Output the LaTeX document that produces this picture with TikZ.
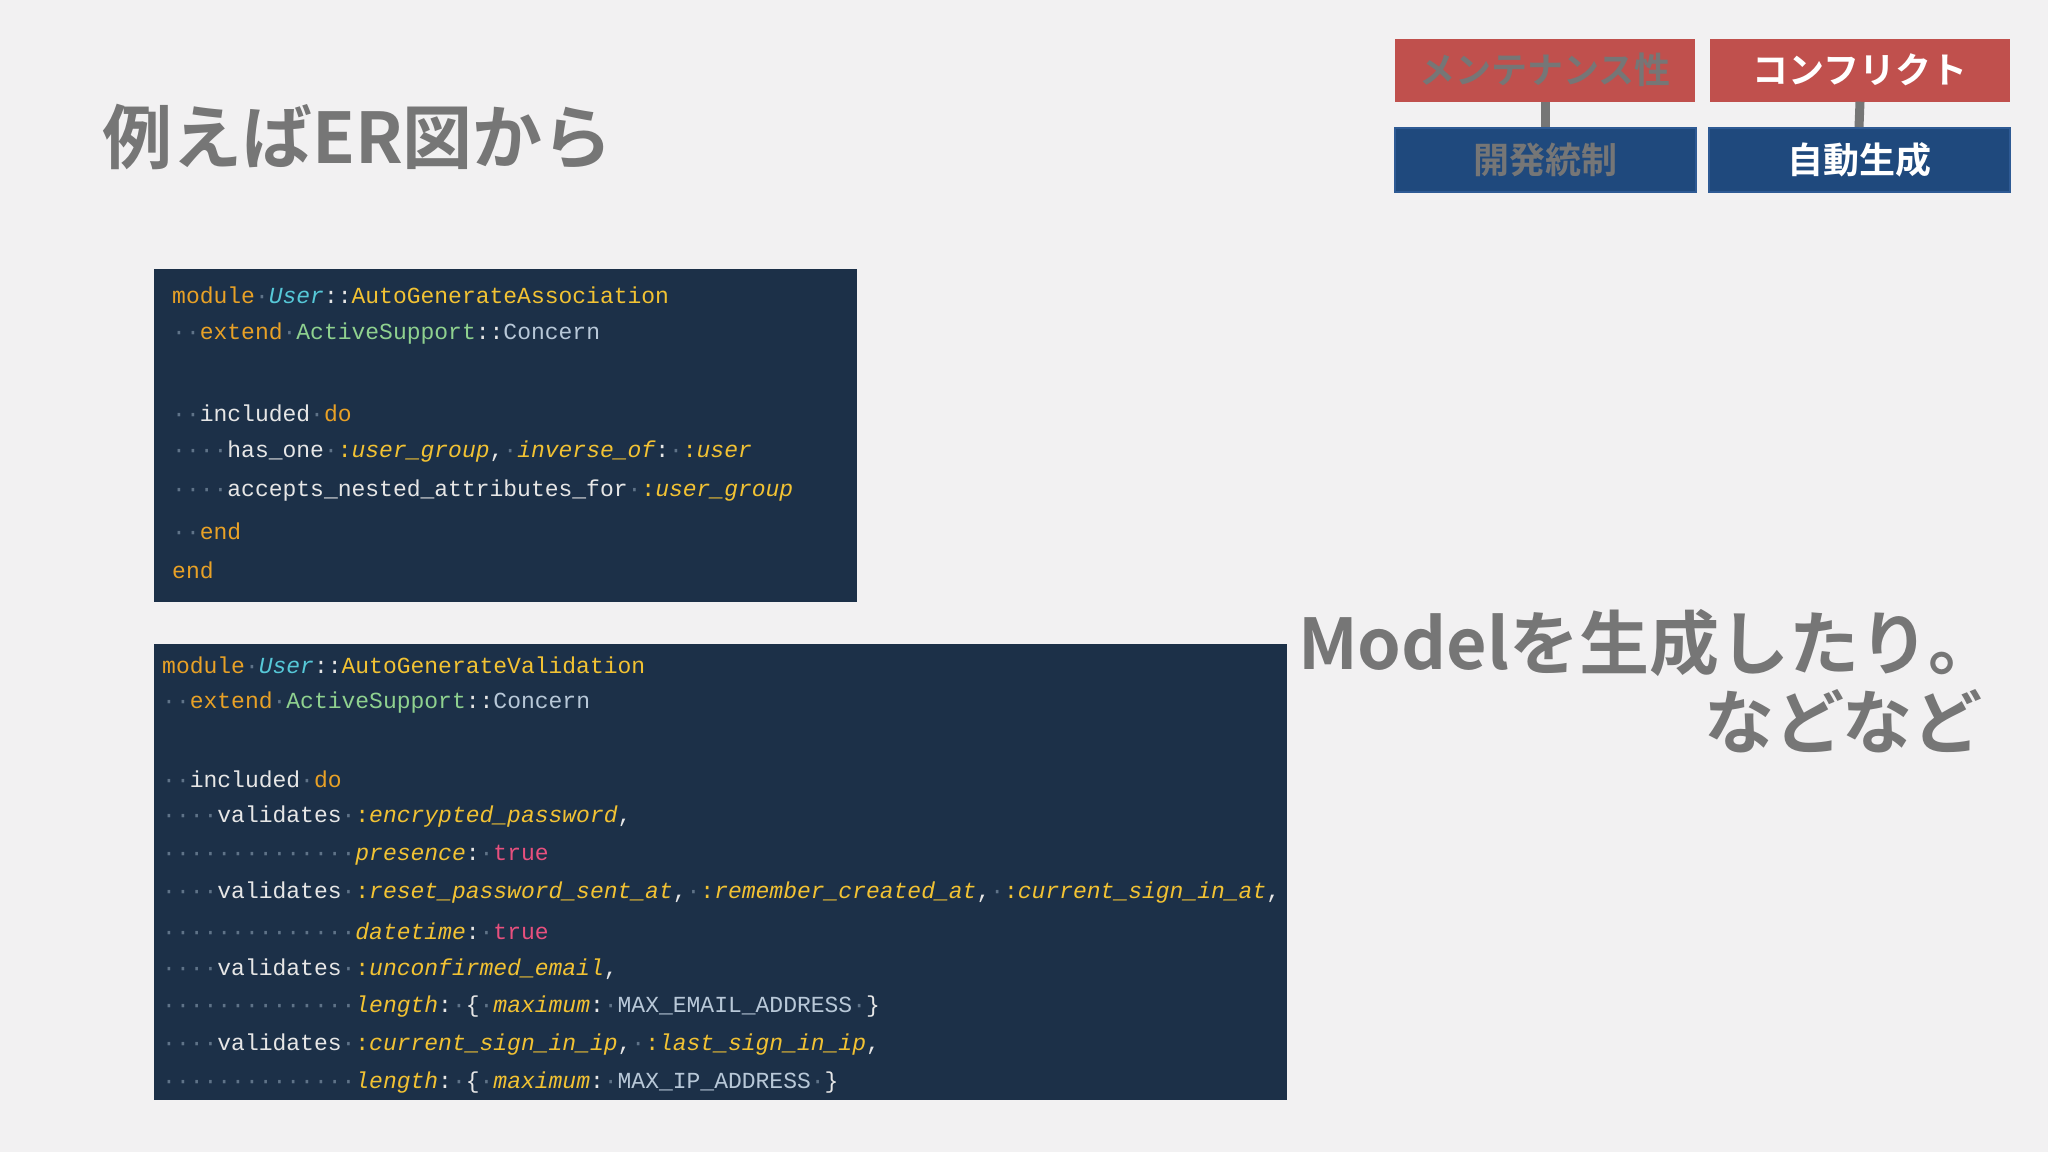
\documentclass[tikz,border=0pt]{standalone}
\usepackage{fontspec}
\newfontfamily\jp{Noto Sans CJK JP Bold}
\newfontfamily\code{Liberation Mono}
\definecolor{bg}{HTML}{F2F1F2}
\definecolor{codebg}{HTML}{1C3048}
\definecolor{redbox}{HTML}{C0504D}
\definecolor{bluebox}{HTML}{1F497D}
\definecolor{bluebd}{HTML}{2E5A94}
\definecolor{ttl}{HTML}{767676}
\definecolor{ckw}{HTML}{E8A126}
\definecolor{cte}{HTML}{56C8D8}
\definecolor{cye}{HTML}{F2C233}
\definecolor{cgr}{HTML}{8FD18F}
\definecolor{cwh}{HTML}{E6E6E6}
\definecolor{cpk}{HTML}{E8507E}
\definecolor{cdt}{HTML}{5F7388}
\definecolor{ccs}{HTML}{B8C8D8}
\newcommand\ck[1]{\textcolor{ckw}{#1}}
\newcommand\ct[1]{\textcolor{cte}{\itshape #1}}
\newcommand\cy[1]{\textcolor{cye}{#1}}
\newcommand\cg[1]{\textcolor{cgr}{#1}}
\newcommand\cw[1]{\textcolor{cwh}{#1}}
\newcommand\cs[1]{\textcolor{cye}{\itshape #1}}
\newcommand\cp[1]{\textcolor{cpk}{#1}}
\newcommand\cd[1]{\textcolor{cdt}{#1}}
\newcommand\cc[1]{\textcolor{ccs}{#1}}
\begin{document}
\begin{tikzpicture}[x=1pt,y=-1pt,
  codeline/.style={anchor=west,inner sep=0pt,font=\code\fontsize{23}{23}\selectfont},
  topbox/.style={fill=redbox,minimum width=300pt,minimum height=63pt,inner sep=0pt,font=\jp\fontsize{36}{36}\selectfont},
  botbox/.style={fill=bluebox,draw=bluebd,line width=2pt,minimum width=301pt,minimum height=64pt,inner sep=0pt,font=\jp\fontsize{36}{36}\selectfont},
  big/.style={inner sep=0pt,text=ttl,font=\jp\fontsize{70}{70}\selectfont},
  link/.style={draw=ttl,line width=9pt}]
\fill[bg] (0,0) rectangle (2048,1152);
\useasboundingbox (0,0) rectangle (2048,1152);
\node[big,anchor=west] (title) at (102,137) {例えばER図から};
\node[topbox,text=ttl] (m) at (1545,70) {メンテナンス性};
\node[topbox,text=white] (c) at (1860,70) {コンフリクト};
\node[botbox,text=ttl] (k) at (1545,160) {開発統制};
\node[botbox,text=white] (j) at (1859,160) {自動生成};
\draw[link] (m.south) -- (k.north);
\draw[link] (c.south) -- (j.north);
\node[big,anchor=west] (model) at (1298,643) {Modelを生成したり。};
\node[big,anchor=east] (nado) at (1983,721) {などなど};
% code box 1
\fill[codebg] (154,269) rectangle (857,602);
\node[codeline] (a1) at (172,295) {\ck{module}\cd{·}\ct{User}\cw{::}\cy{AutoGenerateAssociation}};
\node[codeline] (a2) at (172,334) {\cd{··}\ck{extend}\cd{·}\cg{ActiveSupport}\cw{::}\cc{Concern}};
\node[codeline] (a3) at (172,413) {\cd{··}\cw{included}\cd{·}\ck{do}};
\node[codeline] (a4) at (172,452) {\cd{····}\cw{has\_one}\cd{·}\cy{:}\cs{user\_group}\cw{,}\cd{·}\cs{inverse\_of}\cw{:}\cd{·}\cy{:}\cs{user}};
\node[codeline] (a5) at (172,491) {\cd{····}\cw{accepts\_nested\_attributes\_for}\cd{·}\cy{:}\cs{user\_group}};
\node[codeline] (a6) at (172,531) {\cd{··}\ck{end}};
\node[codeline] (a7) at (172,570) {\ck{end}};
% code box 2
\fill[codebg] (154,644) rectangle (1287,1100);
\begin{scope}
\clip (154,644) rectangle (1287,1100);
\node[codeline] (b1) at (162,665) {\ck{module}\cd{·}\ct{User}\cw{::}\cy{AutoGenerateValidation}};
\node[codeline] (b2) at (162,703) {\cd{··}\ck{extend}\cd{·}\cg{ActiveSupport}\cw{::}\cc{Concern}};
\node[codeline] (b3) at (162,779) {\cd{··}\cw{included}\cd{·}\ck{do}};
\node[codeline] (b4) at (162,817) {\cd{····}\cw{validates}\cd{·}\cy{:}\cs{encrypted\_password}\cw{,}};
\node[codeline] (b5) at (162,855) {\cd{··············}\cs{presence}\cw{:}\cd{·}\cp{true}};
\node[codeline] (b6) at (162,893) {\cd{····}\cw{validates}\cd{·}\cy{:}\cs{reset\_password\_sent\_at}\cw{,}\cd{·}\cy{:}\cs{remember\_created\_at}\cw{,}\cd{·}\cy{:}\cs{current\_sign\_in\_at}\cw{,}};
\node[codeline] (b7) at (162,931) {\cd{··············}\cs{datetime}\cw{:}\cd{·}\cp{true}};
\node[codeline] (b8) at (162,969) {\cd{····}\cw{validates}\cd{·}\cy{:}\cs{unconfirmed\_email}\cw{,}};
\node[codeline] (b9) at (162,1007) {\cd{··············}\cs{length}\cw{:}\cd{·}\cw{\{}\cd{·}\cs{maximum}\cw{:}\cd{·}\cc{MAX\_EMAIL\_ADDRESS}\cd{·}\cw{\}}};
\node[codeline] (b10) at (162,1045) {\cd{····}\cw{validates}\cd{·}\cy{:}\cs{current\_sign\_in\_ip}\cw{,}\cd{·}\cy{:}\cs{last\_sign\_in\_ip}\cw{,}};
\node[codeline] (b11) at (162,1083) {\cd{··············}\cs{length}\cw{:}\cd{·}\cw{\{}\cd{·}\cs{maximum}\cw{:}\cd{·}\cc{MAX\_IP\_ADDRESS}\cd{·}\cw{\}}};
\end{scope}
\end{tikzpicture}
\end{document}
